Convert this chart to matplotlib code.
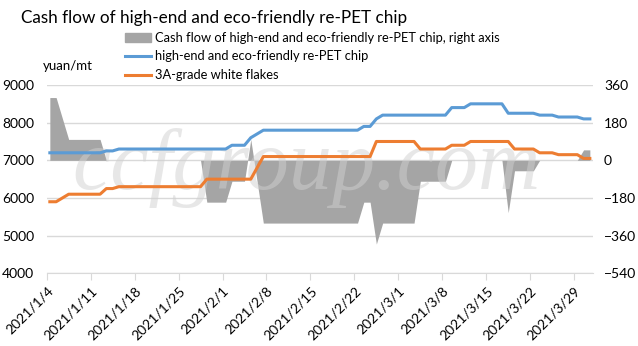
import matplotlib
matplotlib.use("Agg")
import matplotlib.pyplot as plt
import matplotlib.transforms as mtransforms
from matplotlib.patches import Patch
from matplotlib.lines import Line2D
import pandas as pd

# 数据
dates = ["2021-01-04", "2021-01-05", "2021-01-07", "2021-01-12", "2021-01-13",
         "2021-01-14", "2021-01-15", "2021-01-28", "2021-01-29", "2021-02-01",
         "2021-02-02", "2021-02-04", "2021-02-05", "2021-02-07", "2021-02-22",
         "2021-02-23", "2021-02-24", "2021-02-25", "2021-02-26", "2021-03-03",
         "2021-03-04", "2021-03-08", "2021-03-09", "2021-03-11", "2021-03-12",
         "2021-03-17", "2021-03-18", "2021-03-19", "2021-03-22", "2021-03-23",
         "2021-03-25", "2021-03-26", "2021-03-29", "2021-03-30", "2021-03-31"]
chip = [7200, 7200, 7200, 7200, 7250, 7250, 7300, 7300, 7300, 7300,
        7400, 7400, 7600, 7800, 7800, 7900, 7900, 8100, 8200, 8200,
        8200, 8200, 8400, 8400, 8500, 8500, 8250, 8250, 8250, 8200,
        8200, 8150, 8150, 8100, 8100]
flakes = [5900, 5900, 6100, 6100, 6250, 6250, 6300, 6300, 6500, 6500,
          6500, 6500, 6500, 7100, 7100, 7100, 7100, 7500, 7500, 7500,
          7300, 7300, 7400, 7400, 7500, 7500, 7500, 7300, 7300, 7200,
          7200, 7150, 7150, 7050, 7050]
cash_flow = [300, 300, 100, 100, 0, 0, 0, 0, -200, -200,
             -100, -100, 100, -300, -300, -200, -200, -400, -300, -300,
             -100, -100, 0, 0, 0, 0, -250, -50, -50, 0,
             0, 0, 0, 50, 50]

labels = ["Cash flow of high-end and eco-friendly re-PET chip, right axis",
          "high-end and eco-friendly re-PET chip",
          "3A-grade white flakes"]

plt.rcParams['font.family'] = ['Lato', 'DejaVu Sans']

W, H = 638, 346
fig = plt.figure(figsize=(W / 100, H / 100), dpi=100)
x0, x1, y0, y1 = 46.7, 593, 85, 273.3
ax2 = fig.add_axes([x0 / W, 1 - y1 / H, (x1 - x0) / W, (y1 - y0) / H])
ax = ax2.twinx()
ax.yaxis.tick_left()
ax2.yaxis.tick_right()
ax.set_zorder(ax2.get_zorder() + 1)
ax.patch.set_visible(False)

# Excel 日期轴：点在两个刻度之间
x = pd.to_datetime(dates) + pd.Timedelta(hours=12)

ax2.fill_between(x, 0, cash_flow, color="#A5A5A5", lw=0, zorder=1)
ax2.text(0.475, 0.56, "ccfgroup.com", transform=ax2.transAxes, fontsize=62,
         family="Liberation Serif", style="italic", color="#d0d0d0", alpha=0.5,
         ha="center", va="center", zorder=3)
ax.plot(x, chip, color="#5B9BD5", lw=2.2, solid_joinstyle="round")
ax.plot(x, flakes, color="#ED7D31", lw=2.2, solid_joinstyle="round")

ax.set_ylim(4000, 9000)
ax.set_yticks(range(4000, 9001, 1000))
ax2.set_ylim(-540, 360)
ax2.set_yticks(range(-540, 361, 180))
ax2.grid(axis="y", color="#D9D9D9", lw=1)
ax2.set_axisbelow(True)

xticks = pd.date_range("2021-01-04", "2021-03-29", freq="7D")
ax2.set_xlim(pd.Timestamp("2021-01-04"), pd.Timestamp("2021-04-01"))
ax2.set_xticks(xticks)
ax2.set_xticklabels([f"{d.year}/{d.month}/{d.day}" for d in xticks],
                    rotation=45, ha="right", rotation_mode="anchor", fontsize=10)
shift = mtransforms.ScaledTranslation(6 / 100, 0, fig.dpi_scale_trans)
for lbl in ax2.get_xticklabels():
    lbl.set_transform(lbl.get_transform() + shift)
ax2.tick_params(axis="x", length=5, color="#D9D9D9", pad=3)
ax2.tick_params(axis="y", length=0, pad=8, labelsize=10)
ax.tick_params(axis="y", length=0, pad=9, labelsize=10)
for a in (ax, ax2):
    for s in a.spines.values():
        s.set_visible(False)
ax2.spines["bottom"].set_visible(True)
ax2.spines["bottom"].set_color("#D9D9D9")

fig.text(20.7 / W, 1 - 18 / H, "Cash flow of high-end and eco-friendly re-PET chip",
         fontsize=12.3, va="center", ha="left")
fig.text(43 / W, 1 - 66 / H, "yuan/mt", fontsize=9.5, va="center", ha="left")

handles = [Patch(color="#A5A5A5"),
           Line2D([], [], color="#5B9BD5", lw=2.2),
           Line2D([], [], color="#ED7D31", lw=2.2)]
fig.legend(handles, labels, loc="upper left", bbox_to_anchor=(125 / W, 1 - 32 / H),
           frameon=False, fontsize=9.3, handlelength=2.0, handletextpad=0.35,
           labelspacing=0.5, borderpad=0, borderaxespad=0, handleheight=0.6)

fig.savefig("out.png", dpi=100)
